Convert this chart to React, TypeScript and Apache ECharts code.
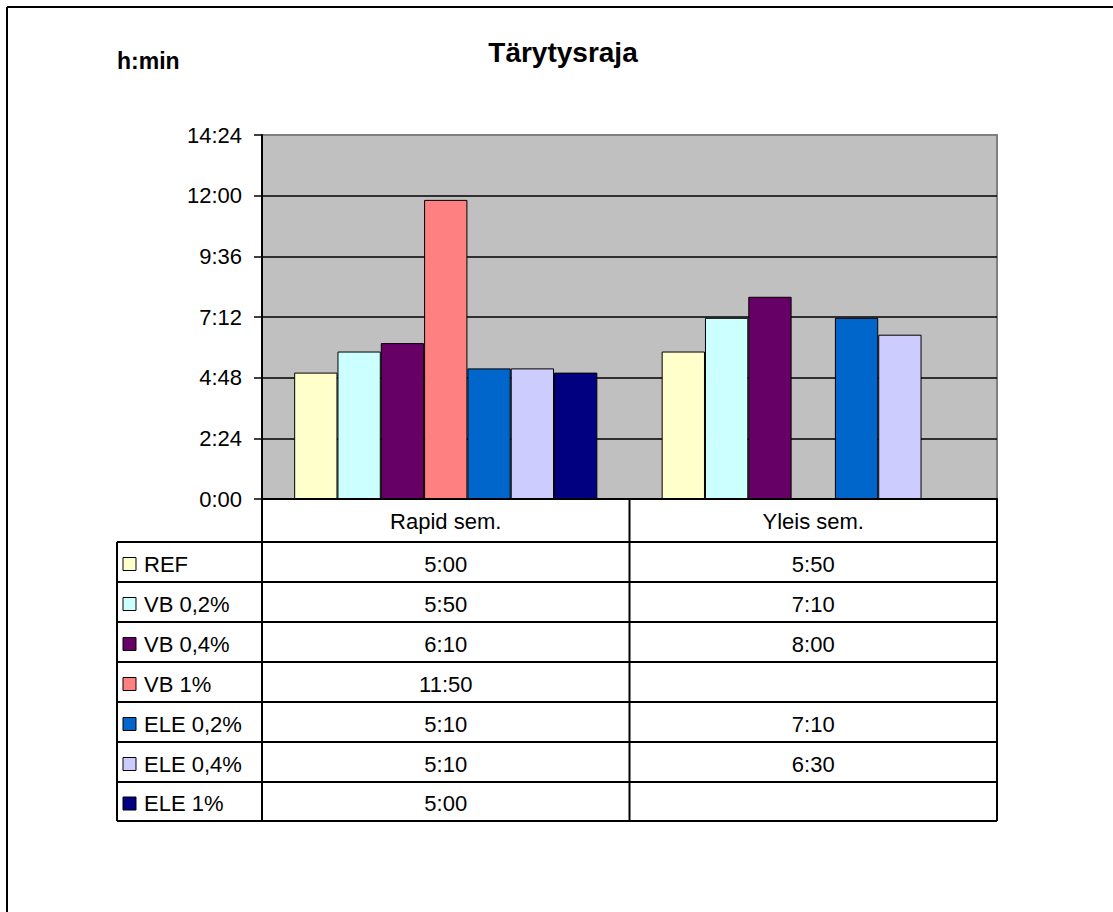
import React, { useEffect, useRef } from "react";
import * as echarts from "echarts";

// Categories and series (values in minutes)
const categories = ["Rapid sem.", "Yleis sem."];
const seriesNames = ["REF", "VB 0,2%", "VB 0,4%", "VB 1%", "ELE 0,2%", "ELE 0,4%", "ELE 1%"];
const seriesColors = ["#FFFFCC", "#CCFFFF", "#660066", "#FF8080", "#0066CC", "#CCCCFF", "#000080"];

const refValues = [300, 350];
const vb02Values = [350, 430];
const vb04Values = [370, 480];
const vb1Values: (number | null)[] = [710, null];
const ele02Values = [310, 430];
const ele04Values = [310, 390];
const ele1Values: (number | null)[] = [300, null];

const seriesValues = [refValues, vb02Values, vb04Values, vb1Values, ele02Values, ele04Values, ele1Values];

// y axis: 0:00 … 14:24 in steps of 2:24
const yMin = 0;
const yMax = 864;
const yStep = 144;

const FONT = '"Liberation Sans", Arial, sans-serif';

const fmt = (m: number | null) => {
  if (m === null || m === undefined) return "";
  const h = Math.floor(m / 60);
  const mm = Math.round(m % 60);
  return `${h}:${String(mm).padStart(2, "0")}`;
};

// grid geometry
const GRID_LEFT = 262;
const GRID_TOP = 135;
const GRID_RIGHT = 997;
const GRID_BOTTOM = 499;
const W = 1113;
const H = 912;

// data table geometry
const TABLE_LEFT = 117;
const HEADER_BOTTOM = 542;
const ROW_H = 40;
const TABLE_BOTTOM = 821;

export default function App() {
  const ref = useRef<HTMLDivElement>(null);

  useEffect(() => {
    if (!ref.current) return;
    const chart = echarts.init(ref.current, null, { renderer: "svg" });

    chart.setOption({
      animation: false,
      backgroundColor: "#ffffff",
      grid: {
        left: GRID_LEFT,
        top: GRID_TOP,
        right: W - GRID_RIGHT,
        bottom: H - GRID_BOTTOM,
        show: true,
        backgroundColor: "#C0C0C0",
        borderColor: "#808080",
        borderWidth: 2,
        containLabel: false,
      },
      xAxis: {
        type: "category",
        data: categories,
        axisLine: { show: true, lineStyle: { color: "#000", width: 2 } },
        axisTick: { show: false },
        axisLabel: { color: "#000", fontSize: 22, fontFamily: FONT, margin: 11 },
      },
      yAxis: {
        type: "value",
        min: yMin,
        max: yMax,
        interval: yStep,
        axisLine: { show: true, lineStyle: { color: "#000", width: 2 } },
        axisTick: { show: true, length: 8, lineStyle: { color: "#000", width: 1.5 } },
        axisLabel: {
          color: "#000",
          fontSize: 22,
          fontFamily: FONT,
          margin: 20,
          formatter: (v: number) => fmt(v),
        },
        splitLine: { show: true, showMaxLine: false, lineStyle: { color: "#000", width: 1.5 } },
      },
      series: seriesNames.map((name, i) => ({
        name,
        type: "bar",
        data: seriesValues[i],
        barGap: "0%",
        barCategoryGap: "17.5%",
        itemStyle: { color: seriesColors[i], borderColor: "#000", borderWidth: 1 },
      })),
    });

    // data table under the plot
    const colCenters = categories.map((_, c) => chart.convertToPixel({ xAxisIndex: 0 }, c) as number);
    const colBounds = [GRID_LEFT, (GRID_LEFT + GRID_RIGHT) / 2, GRID_RIGHT];

    const lineStyle = { stroke: "#000", lineWidth: 2 };
    const els: any[] = [];

    // outer chart frame (top and left edges fall inside the page)
    els.push({
      type: "line",
      shape: { x1: 7, y1: 7, x2: W + 10, y2: 7 },
      style: { stroke: "#000", lineWidth: 2 },
      z: 100,
    });
    els.push({
      type: "line",
      shape: { x1: 7, y1: 7, x2: 7, y2: H + 10 },
      style: { stroke: "#000", lineWidth: 2 },
      z: 100,
    });

    // title and axis unit
    els.push({
      type: "text",
      x: 563,
      y: 52,
      style: { text: "Tärytysraja", font: `bold 28px ${FONT}`, fill: "#000", align: "center", verticalAlign: "middle" },
      z: 100,
    });
    els.push({
      type: "text",
      x: 117,
      y: 61,
      style: { text: "h:min", font: `bold 23px ${FONT}`, fill: "#000", align: "left", verticalAlign: "middle" },
      z: 100,
    });

    // horizontal table lines
    for (let r = 0; r <= seriesNames.length; r++) {
      const y = r === seriesNames.length ? TABLE_BOTTOM : HEADER_BOTTOM + r * ROW_H;
      els.push({
        type: "line",
        shape: { x1: TABLE_LEFT, y1: y, x2: GRID_RIGHT, y2: y },
        style: lineStyle,
        z: 100,
      });
    }
    // vertical table lines
    els.push({
      type: "line",
      shape: { x1: TABLE_LEFT, y1: HEADER_BOTTOM, x2: TABLE_LEFT, y2: TABLE_BOTTOM },
      style: lineStyle,
      z: 100,
    });
    colBounds.forEach((x) => {
      els.push({
        type: "line",
        shape: { x1: x, y1: GRID_BOTTOM, x2: x, y2: TABLE_BOTTOM },
        style: lineStyle,
        z: 100,
      });
    });

    // rows: legend key, series name, values
    seriesNames.forEach((name, r) => {
      const top = HEADER_BOTTOM + r * ROW_H;
      const bottom = r === seriesNames.length - 1 ? TABLE_BOTTOM : top + ROW_H;
      const cy = (top + bottom) / 2 + 2;
      els.push({
        type: "rect",
        shape: { x: 123, y: cy - 6.5, width: 13, height: 13 },
        style: { fill: seriesColors[r], stroke: "#000", lineWidth: 1 },
        z: 100,
      });
      els.push({
        type: "text",
        x: 144,
        y: cy,
        style: { text: name, font: `22px ${FONT}`, fill: "#000", align: "left", verticalAlign: "middle" },
        z: 100,
      });
      seriesValues[r].forEach((v, c) => {
        els.push({
          type: "text",
          x: colCenters[c],
          y: cy,
          style: { text: fmt(v as number | null), font: `22px ${FONT}`, fill: "#000", align: "center", verticalAlign: "middle" },
          z: 100,
        });
      });
    });

    chart.setOption({ graphic: { elements: els } });

    return () => chart.dispose();
  }, []);

  return (
    <div
      ref={ref}
      style={{ position: "fixed", left: 0, top: 0, width: W, height: H, background: "#fff" }}
    />
  );
}
